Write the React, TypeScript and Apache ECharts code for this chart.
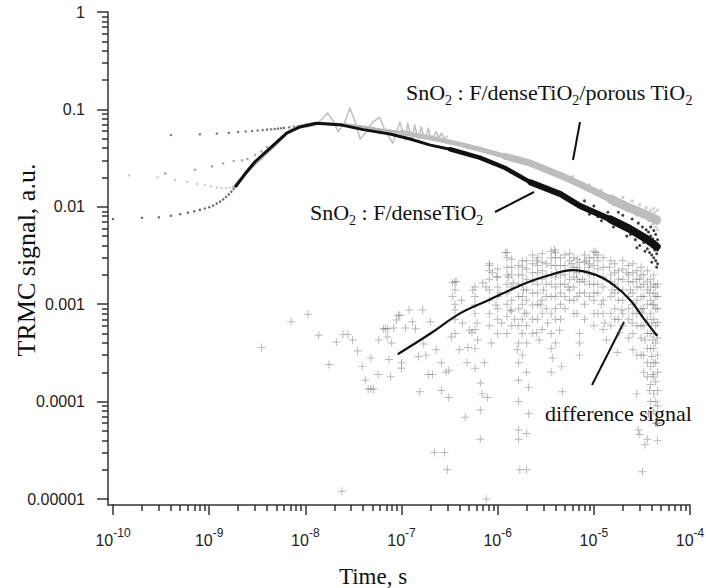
import React, { useEffect, useRef } from 'react';
import * as echarts from 'echarts';

// ---------- axis ticks ----------
const xTickExponents = ['-10', '-9', '-8', '-7', '-6', '-5', '-4'];
const yTickLabels = ['0.00001', '0.0001', '0.001', '0.01', '0.1', '1'];
const minorMultipliers = [2, 3, 4, 5, 6, 7, 8, 9];
const xMinorDecades = [1e-10, 1e-9, 1e-8, 1e-7, 1e-6, 1e-5];
const yMinorDecades = [1e-5, 1e-4, 1e-3, 1e-2, 1e-1];

// ---------- early-time dotted traces ----------
const earlyTopT = [4e-10, 8e-10, 1.2e-9, 1.6e-9, 2.0e-9, 2.4e-9, 2.8e-9, 3.2e-9, 3.6e-9, 4.0e-9, 4.4e-9, 4.8e-9, 5.2e-9, 5.6e-9, 6.0e-9, 6.8e-9, 7.6e-9, 8.4e-9, 9.2e-9, 1.0e-8];
const earlyTopV = [0.0546, 0.0555, 0.0565, 0.0575, 0.0585, 0.0593, 0.06, 0.0607, 0.0614, 0.062, 0.0626, 0.063, 0.0636, 0.064, 0.0645, 0.0655, 0.0663, 0.067, 0.0677, 0.068];

const earlyMidT = [3.5e-10, 7.1e-10, 1.07e-9, 1.4e-9, 1.8e-9, 2.2e-9, 2.5e-9, 3.0e-9, 3.5e-9, 4.0e-9];
const earlyMidV = [0.022, 0.024, 0.026, 0.028, 0.0295, 0.030, 0.031, 0.034, 0.037, 0.041];

const earlyLightT = [1.47e-10, 2.9e-10, 4.4e-10, 5.9e-10, 7.5e-10, 9e-10, 1.05e-9, 1.2e-9, 1.35e-9, 1.5e-9, 1.65e-9, 1.8e-9];
const earlyLightV = [0.021, 0.020, 0.0188, 0.018, 0.0172, 0.0167, 0.0162, 0.0158, 0.0156, 0.0156, 0.0157, 0.016];

const earlyLowT = [1e-10, 2e-10, 3e-10, 4e-10, 5e-10, 6e-10, 7e-10, 8e-10, 9e-10, 1.0e-9, 1.1e-9, 1.2e-9, 1.3e-9, 1.4e-9, 1.5e-9, 1.6e-9, 1.7e-9, 1.8e-9, 1.9e-9, 2.0e-9, 2.2e-9, 2.4e-9, 2.6e-9, 2.8e-9, 3.0e-9];
const earlyLowV = [0.0075, 0.0077, 0.0078, 0.0081, 0.0084, 0.0087, 0.009, 0.0093, 0.0096, 0.0099, 0.0103, 0.0108, 0.0113, 0.0119, 0.0126, 0.0134, 0.0143, 0.0153, 0.0163, 0.0174, 0.0198, 0.0222, 0.0246, 0.027, 0.0292];

// ---------- main decays ----------
const denseT = [1.9e-9, 2.4e-9, 3e-9, 4.3e-9, 6.4e-9, 8.8e-9, 1.3e-8, 2.4e-8, 4e-8, 7.6e-8, 1.2e-7, 2e-7, 3.2e-7, 6.5e-7, 1.2e-6, 2.2e-6, 4.5e-6, 7.2e-6, 1.5e-5, 2.3e-5, 3.5e-5, 4.5e-5];
const denseV = [0.0163, 0.0222, 0.029, 0.040, 0.057, 0.066, 0.072, 0.069, 0.062, 0.056, 0.050, 0.043, 0.039, 0.032, 0.025, 0.0178, 0.0135, 0.0102, 0.0074, 0.006, 0.0047, 0.0039];

const porousT = [1.8e-9, 2.6e-9, 3.5e-9, 4.6e-9, 6.4e-9, 8e-9, 1.04e-8, 1.5e-8, 2.5e-8, 4e-8, 6e-8, 1e-7, 2e-7, 4e-7, 6.5e-7, 1.2e-6, 2.2e-6, 4.5e-6, 7.2e-6, 1.5e-5, 2.3e-5, 3.5e-5, 4.5e-5];
const porousV = [0.016, 0.024, 0.032, 0.041, 0.057, 0.065, 0.070, 0.072, 0.070, 0.066, 0.062, 0.058, 0.051, 0.044, 0.039, 0.033, 0.028, 0.021, 0.017, 0.012, 0.0098, 0.0083, 0.0073];

const oscT = [1.0e-8, 1.25e-8, 1.5e-8, 1.7e-8, 1.95e-8, 2.2e-8, 2.55e-8, 2.9e-8, 3.3e-8, 3.7e-8, 4.3e-8, 5e-8, 5.9e-8, 6.8e-8, 8.1e-8, 8.9e-8, 9.6e-8, 1.03e-7, 1.1e-7, 1.16e-7, 1.24e-7, 1.3e-7, 1.37e-7, 1.45e-7, 1.52e-7, 1.6e-7, 1.7e-7, 1.78e-7, 1.9e-7, 2.0e-7, 2.1e-7, 2.3e-7, 2.45e-7, 2.6e-7, 2.8e-7, 3.0e-7];
const oscV = [0.066, 0.068, 0.08, 0.092, 0.076, 0.059, 0.072, 0.103, 0.075, 0.05, 0.058, 0.074, 0.083, 0.06, 0.045, 0.058, 0.074, 0.06, 0.048, 0.072, 0.055, 0.05, 0.069, 0.055, 0.05, 0.066, 0.054, 0.05, 0.064, 0.053, 0.05, 0.059, 0.051, 0.057, 0.05, 0.053];

// band widening thresholds (time from which the noisy band gets wider)
const denseBandStarts = [3e-7, 2e-6, 1e-5];
const porousBandStarts = [1e-7, 1e-6, 1e-5];

const denseNoise: [number, number][] = [
  [1.8e-5, 0.0088], [2.0e-5, 0.0082], [2.2e-5, 0.005], [2.5e-5, 0.0075], [2.7e-5, 0.0046], [2.9e-5, 0.0068], [3.0e-5, 0.004],
  [3.2e-5, 0.0062], [3.3e-5, 0.0043], [3.5e-5, 0.0058], [3.6e-5, 0.0037], [3.7e-5, 0.0055], [3.8e-5, 0.0034], [3.9e-5, 0.005],
  [4.0e-5, 0.0032], [4.1e-5, 0.0047], [4.2e-5, 0.003], [4.3e-5, 0.0044], [4.4e-5, 0.0028], [4.5e-5, 0.0042], [4.5e-5, 0.0033],
  [4.6e-5, 0.0036], [4.6e-5, 0.0026], [4.4e-5, 0.0052], [4.2e-5, 0.0057], [3.9e-5, 0.0062], [4.5e-5, 0.0024], [4.3e-5, 0.0036],
  [4.1e-5, 0.0039], [3.4e-5, 0.0035], [2.8e-5, 0.0038], [1.6e-5, 0.0062], [1.2e-5, 0.0072], [4.6e-5, 0.0046], [4.0e-5, 0.0027],
  [8e-6, 0.0115], [9e-6, 0.0084], [1.0e-5, 0.0102], [1.1e-5, 0.0079], [1.4e-5, 0.0088], [2.4e-5, 0.0052], [3.1e-5, 0.0053],
];
const porousNoise: [number, number][] = [
  [2.5e-5, 0.0115], [2.8e-5, 0.0082], [3.0e-5, 0.0105], [3.2e-5, 0.0078], [3.5e-5, 0.0098], [3.7e-5, 0.0072], [3.9e-5, 0.0092],
  [4.1e-5, 0.0066], [4.3e-5, 0.0088], [4.4e-5, 0.0062], [4.5e-5, 0.008], [4.6e-5, 0.0058], [4.6e-5, 0.0068], [4.6e-5, 0.0092],
  [2.0e-5, 0.0125], [4.2e-5, 0.0096], [1.2e-5, 0.0148], [1.6e-5, 0.0105], [9e-6, 0.0168], [6e-6, 0.0205],
];

// ---------- difference signal ----------
const diffPoints: [number, number][] = [
  [3.5e-9, 3.6e-4], [7.1e-9, 6.6e-4], [1.07e-8, 7.9e-4], [1.38e-8, 4.8e-4], [1.76e-8, 2.4e-4], [2.1e-8, 4.1e-4], [2.46e-8, 4.9e-4],
  [2.77e-8, 4.9e-4], [3.1e-8, 4.3e-4], [3.5e-8, 3.3e-4], [3.9e-8, 2.3e-4], [4.2e-8, 1.66e-4], [4.5e-8, 1.35e-4], [4.8e-8, 1.35e-4],
  [5.1e-8, 1.35e-4], [4.8e-8, 2.8e-4], [5.7e-8, 1.9e-4], [5.8e-8, 4.3e-4], [6.5e-8, 5.6e-4], [6.8e-8, 5.6e-4], [7.2e-8, 5.6e-4],
  [7.1e-8, 4.6e-4], [7.4e-8, 2.7e-4], [7.7e-8, 1.8e-4], [7.9e-8, 4.0e-4], [8.3e-8, 5.7e-4], [8.9e-8, 6.9e-4], [9.3e-8, 7.7e-4],
  [2.4e-8, 1.2e-5],
  [9.6e-8, 7.7e-4], [1.0e-7, 2.5e-4], [1.0e-7, 2.2e-4], [1.1e-7, 5.7e-4], [1.2e-7, 8.7e-4], [1.3e-7, 6.6e-4], [1.4e-7, 5.6e-4],
  [1.5e-7, 2.9e-4], [1.55e-7, 1.26e-4], [1.66e-7, 8.7e-4], [1.7e-7, 3.9e-4], [1.8e-7, 3.0e-4], [1.9e-7, 1.9e-4], [2.0e-7, 6.6e-4],
  [2.1e-7, 1.9e-4], [2.2e-7, 3.0e-5], [2.3e-7, 3.4e-4], [2.6e-7, 2.5e-4], [2.6e-7, 1.3e-4], [2.8e-7, 3.0e-5], [2.9e-7, 2.0e-4],
  [3.0e-7, 2.0e-5], [3.1e-7, 1.1e-4], [3.1e-7, 2.1e-4], [3.3e-7, 4.6e-4], [3.4e-7, 1.66e-3], [3.4e-7, 1.2e-3], [3.6e-7, 8.7e-4],
  [3.7e-7, 1.7e-3], [4.0e-7, 3.4e-4], [4.2e-7, 1.1e-3], [4.3e-7, 6.4e-4], [4.6e-7, 6.9e-5], [4.8e-7, 2.5e-4], [4.9e-7, 3.6e-4],
  [5.1e-7, 5.4e-4], [5.4e-7, 5.1e-4], [5.5e-7, 1.4e-3], [5.8e-7, 9.8e-4], [6.1e-7, 6.4e-4], [6.2e-7, 4.3e-4], [6.6e-7, 1.55e-4],
  [6.6e-7, 8.2e-5], [6.6e-7, 4.1e-5], [6.9e-7, 1.2e-4], [7.0e-7, 1.66e-3], [7.3e-7, 2.5e-4], [7.6e-7, 1.5e-3], [7.6e-7, 1.0e-5],
  [7.8e-7, 1.1e-4], [8.2e-7, 2.5e-3], [8.6e-7, 4.0e-4], [8.8e-7, 2.1e-3], [9.6e-7, 9.8e-4], [9.8e-7, 1.9e-3], [1.05e-6, 1.3e-3],
  [1.1e-6, 6.4e-4], [1.2e-6, 3.4e-3], [1.3e-6, 1.9e-3], [1.35e-6, 8.7e-4], [1.45e-6, 1.66e-3], [1.5e-6, 7.0e-4],
  [1.6e-6, 3.4e-4], [1.65e-6, 1.66e-4], [1.65e-6, 1.0e-4], [1.65e-6, 5.1e-5], [1.65e-6, 4.1e-5], [1.7e-6, 2.0e-5], [1.8e-6, 2.8e-3],
  [1.85e-6, 1.4e-3], [1.9e-6, 8.1e-4], [2.0e-6, 2.0e-5], [2.0e-6, 4.7e-5], [2.1e-6, 7.5e-5], [2.1e-6, 1.4e-4],
  [2.3e-6, 2.1e-3], [2.3e-6, 9.8e-4], [2.55e-6, 5.1e-4],
  [2.55e-6, 2.8e-3], [2.8e-6, 9.8e-4], [2.7e-6, 4.3e-4], [3.0e-6, 1.4e-3], [3.3e-6, 6.4e-4], [3.6e-6, 2.0e-4],
  [3.7e-6, 2.8e-4], [3.9e-6, 3.6e-3], [4.1e-6, 2.1e-3], [4.4e-6, 5.4e-4], [4.6e-6, 2.3e-4], [4.7e-6, 1.26e-4],
  [5.4e-6, 1.5e-3], [5.9e-6, 2.6e-3], [6.6e-6, 2.1e-3], [7.6e-6, 1.8e-3], [8.3e-6, 2.8e-3], [8.9e-6, 2.4e-3],
  [1.0e-5, 1.3e-3], [1.05e-5, 3.4e-3], [1.2e-5, 1.0e-3], [1.3e-5, 6.4e-4], [1.35e-5, 4.3e-4], [1.45e-5, 2.4e-3],
  [1.55e-5, 1.4e-3], [1.75e-5, 3.2e-4], [1.85e-5, 5.1e-4], [1.95e-5, 8.7e-4], [2.2e-5, 2.1e-3], [2.4e-5, 1.4e-3],
  [2.5e-5, 6.4e-4], [2.55e-5, 3.4e-4], [2.8e-5, 1.2e-4], [2.9e-5, 5.1e-5], [3.0e-5, 1.8e-3], [3.2e-5, 8.1e-4],
  [3.4e-5, 4.3e-4], [3.6e-5, 1.8e-4], [3.6e-5, 4.1e-5], [3.7e-5, 7.5e-5], [3.8e-5, 1.3e-3], [3.8e-5, 1.3e-4], [4.0e-5, 6.4e-4],
  [4.0e-5, 2.9e-4], [4.1e-5, 9.8e-4], [4.1e-5, 4.3e-4], [4.1e-5, 1.9e-4], [3.2e-5, 1.9e-5], [3.0e-5, 4.6e-5], [3.4e-5, 3.6e-5],
];
const diffStreakT = [
  3.6e-7, 5.8e-7, 8.2e-7, 1.0e-6, 1.25e-6, 1.4e-6, 1.65e-6, 1.8e-6, 2.0e-6, 2.3e-6, 2.6e-6, 2.9e-6, 3.2e-6, 3.6e-6, 4.0e-6,
  4.5e-6, 5.0e-6, 5.6e-6, 6.2e-6, 6.7e-6, 7.1e-6, 8e-6, 9e-6, 1.0e-5, 1.1e-5, 1.25e-5, 1.5e-5, 1.65e-5, 1.8e-5, 2.0e-5,
  2.3e-5, 2.55e-5, 2.8e-5, 3.1e-5, 3.3e-5, 3.6e-5, 3.9e-5, 4.2e-5, 4.4e-5, 4.6e-5,
];
const diffStreakV = [
  [1.7e-3, 1.4e-3, 1.0e-3, 7e-4, 5e-4],
  [1.5e-3, 1.2e-3, 8e-4, 5.5e-4, 3.5e-4, 2.2e-4],
  [2.6e-3, 2.2e-3, 1.8e-3, 1.4e-3, 1.1e-3, 8e-4, 6e-4],
  [2.3e-3, 1.9e-3, 1.5e-3, 1.2e-3, 9e-4, 7e-4, 5e-4],
  [3.4e-3, 3.0e-3, 2.4e-3, 2.0e-3, 1.6e-3, 1.3e-3, 1.0e-3, 7.5e-4, 5e-4],
  [2.9e-3, 2.4e-3, 2.0e-3, 1.5e-3, 1.1e-3, 8.5e-4, 6e-4],
  [2.5e-3, 2.0e-3, 1.6e-3, 1.2e-3, 9e-4, 6e-4, 4e-4, 2.5e-4],
  [2.4e-3, 2.0e-3, 1.6e-3, 1.2e-3, 1.0e-3, 7e-4, 5e-4, 3e-4],
  [2.8e-3, 2.3e-3, 1.8e-3, 1.4e-3, 1.1e-3, 8e-4, 6e-4, 4e-4, 2e-4],
  [3.2e-3, 2.6e-3, 1.7e-3, 1.3e-3, 7e-4, 5e-4],
  [3.0e-3, 2.5e-3, 2.1e-3, 1.6e-3, 1.3e-3, 1.0e-3, 7e-4],
  [3.3e-3, 2.7e-3, 2.2e-3, 1.8e-3, 1.1e-3, 8e-4, 5.5e-4],
  [2.6e-3, 2.0e-3, 1.6e-3, 1.2e-3, 9e-4],
  [3.5e-3, 3.0e-3, 2.5e-3, 2.0e-3, 1.6e-3, 1.2e-3, 8e-4, 5e-4, 3.5e-4],
  [3.4e-3, 3.0e-3, 2.5e-3, 1.9e-3, 1.5e-3, 1.2e-3, 9e-4, 7e-4, 4e-4],
  [3.0e-3, 2.5e-3, 2.0e-3, 1.6e-3, 1.3e-3, 1.0e-3, 7e-4],
  [3.2e-3, 2.5e-3, 2.0e-3, 1.6e-3, 1.2e-3, 9e-4],
  [3.3e-3, 2.8e-3, 2.2e-3, 1.8e-3, 1.4e-3, 1.1e-3],
  [3.0e-3, 2.4e-3, 1.9e-3, 1.5e-3, 1.1e-3, 8e-4],
  [2.9e-3, 2.4e-3, 1.8e-3, 1.2e-3, 8e-4],
  [2.7e-3, 2.2e-3, 1.7e-3, 1.3e-3, 5e-4, 4e-4, 3e-4],
  [3.2e-3, 2.7e-3, 2.2e-3, 1.7e-3, 1.3e-3, 1.0e-3, 7e-4],
  [3.0e-3, 2.6e-3, 2.0e-3, 1.6e-3, 1.2e-3],
  [3.5e-3, 3.0e-3, 2.5e-3, 2.0e-3, 1.6e-3, 1.1e-3, 8e-4, 6e-4],
  [3.2e-3, 2.8e-3, 2.3e-3, 1.6e-3, 1.3e-3, 8e-4],
  [3.0e-3, 2.4e-3, 1.9e-3, 1.5e-3, 1.1e-3, 8e-4, 5.5e-4],
  [2.8e-3, 2.0e-3, 1.7e-3, 1.2e-3, 8e-4, 6e-4],
  [2.6e-3, 2.1e-3, 1.6e-3, 1.3e-3, 9e-4, 7e-4],
  [2.2e-3, 1.8e-3, 1.4e-3, 1.1e-3, 7e-4],
  [2.8e-3, 2.3e-3, 1.8e-3, 1.4e-3, 1.1e-3, 8e-4, 6e-4],
  [2.5e-3, 2.0e-3, 1.7e-3, 1.2e-3, 9e-4, 7e-4, 4.5e-4],
  [2.6e-3, 2.1e-3, 1.7e-3, 1.3e-3, 1.0e-3, 8e-4, 5e-4],
  [2.2e-3, 1.8e-3, 1.5e-3, 1.1e-3, 8e-4, 6e-4, 3e-4],
  [2.4e-3, 2.0e-3, 1.5e-3, 1.2e-3, 9e-4, 6e-4, 4.5e-4, 3e-4],
  [2.0e-3, 1.6e-3, 1.2e-3, 9e-4, 6e-4, 3e-4, 2e-4],
  [2.2e-3, 1.7e-3, 1.4e-3, 1.0e-3, 7e-4, 5e-4, 3.5e-4, 2.5e-4],
  [1.8e-3, 1.5e-3, 1.1e-3, 8e-4, 5e-4, 3.5e-4, 2.3e-4, 1.5e-4, 1e-4],
  [2.0e-3, 1.6e-3, 1.3e-3, 1.0e-3, 7e-4, 5e-4, 3.5e-4, 2.5e-4, 1.8e-4, 1.2e-4, 8e-5],
  [1.5e-3, 1.2e-3, 9e-4, 6e-4, 4e-4, 2.5e-4, 1.6e-4, 1e-4, 6e-5],
  [1.6e-3, 1.2e-3, 9e-4, 6.5e-4, 4.5e-4, 3e-4, 2e-4, 1.3e-4, 9e-5, 6e-5, 4e-5],
];

const fitT = [9.3e-8, 2e-7, 4.1e-7, 8e-7, 1.58e-6, 2.2e-6, 3e-6, 6e-6, 1.05e-5, 1.6e-5, 2.4e-5, 3.2e-5, 4.5e-5];
const fitV = [3.1e-4, 5.0e-4, 8.1e-4, 1.1e-3, 1.5e-3, 1.72e-3, 1.9e-3, 2.24e-3, 2.0e-3, 1.58e-3, 1.1e-3, 7.4e-4, 4.8e-4];

const zip = (t: number[], v: number[]) => t.map((x, i) => [x, v[i]]);

const SERIF = '"Liberation Serif", "Times New Roman", serif';
const SANS = '"Liberation Sans", Arial, sans-serif';
const CROSS = 'path://M4.4,0H5.6V4.4H10V5.6H5.6V10H4.4V5.6H0V4.4H4.4Z';
const AXIS = '#333333';
const X_OFFSET = 6;
const Y_OFFSET = 5;

function buildOption() {
  const diffAll: number[][] = diffPoints.map((p) => [p[0], p[1]]);
  diffStreakT.forEach((t, i) => diffStreakV[i].forEach((v) => diffAll.push([t, v])));

  const xMinorValues: number[] = [];
  xMinorDecades.forEach((d) => minorMultipliers.forEach((m) => xMinorValues.push(d * m)));
  const yMinorValues: number[] = [];
  yMinorDecades.forEach((d) => minorMultipliers.forEach((m) => yMinorValues.push(d * m)));

  const dense = zip(denseT, denseV);
  const porous = zip(porousT, porousV);

  const dots = (data: number[][], color: string, size = 2.5) => ({
    type: 'scatter', data, symbol: 'circle', symbolSize: size, itemStyle: { color }, silent: true,
  });
  const line = (data: number[][], color: string, width: number, extra = {}) => ({
    type: 'line', data, showSymbol: false, symbol: 'none', lineStyle: { color, width, cap: 'round', join: 'round' }, silent: true, ...extra,
  });
  const band = (data: number[][], starts: number[], widths: number[], color: string) =>
    starts.map((s, i) => line(data.filter((p) => p[0] >= s), color, widths[i]));

  const leader = (x1: number, y1: number, x2: number, y2: number) => ({
    type: 'line', shape: { x1, y1, x2, y2 }, style: { stroke: '#111', lineWidth: 2 }, silent: true,
  });
  const subText = (x: number, y: number, parts: [string, boolean][]) => ({
    type: 'text', x, y, silent: true,
    style: {
      text: parts.map(([s, sub]) => (sub ? `{s|${s}}` : `{a|${s}}`)).join(''),
      align: 'left', verticalAlign: 'middle',
      rich: {
        a: { fontFamily: SERIF, fontSize: 22, fill: '#111' },
        s: { fontFamily: SERIF, fontSize: 14, fill: '#111', padding: [17, 0, 0, 0] },
      },
    },
  });

  const tickStyle = { color: AXIS, width: 1.5 };

  return {
    animation: false,
    backgroundColor: '#ffffff',
    grid: { left: 113, right: 16, top: 12, bottom: 89, containLabel: false, outerBoundsMode: 'none' },
    xAxis: [
      {
        type: 'log', logBase: 10, min: 1e-10, max: 1e-4, offset: X_OFFSET, position: 'bottom',
        axisLine: { show: true, lineStyle: tickStyle },
        axisTick: { show: true, length: 10, lineStyle: tickStyle },
        minorTick: { show: false },
        splitLine: { show: false },
        axisLabel: {
          margin: 22,
          formatter: (v: number) => {
            const e = Math.round(Math.log10(v));
            const lab = xTickExponents.find((s) => Number(s) === e) ?? String(e);
            return `{b|10}{s|${lab}}`;
          },
          rich: {
            b: { fontFamily: SANS, fontSize: 16, color: '#222' },
            s: { fontFamily: SANS, fontSize: 12, color: '#222', padding: [0, 0, 14, 0] },
          },
        },
      },
      {
        // minor log ticks
        type: 'log', logBase: 10, min: 1e-10, max: 1e-4, offset: X_OFFSET, position: 'bottom',
        axisLine: { show: false }, axisLabel: { show: false }, splitLine: { show: false },
        axisTick: { show: true, length: 6, lineStyle: tickStyle, customValues: xMinorValues },
      },
    ],
    yAxis: [
      {
        type: 'log', logBase: 10, min: 1e-5, max: 1, offset: Y_OFFSET, position: 'left',
        axisLine: { show: true, lineStyle: tickStyle },
        axisTick: { show: true, length: 11, lineStyle: tickStyle },
        minorTick: { show: false },
        splitLine: { show: false },
        axisLabel: {
          margin: 23, fontFamily: SANS, fontSize: 16, color: '#222',
          formatter: (v: number) => yTickLabels[Math.round(Math.log10(v)) + 5] ?? '',
        },
      },
      {
        type: 'log', logBase: 10, min: 1e-5, max: 1, offset: Y_OFFSET, position: 'left',
        axisLine: { show: false }, axisLabel: { show: false }, splitLine: { show: false },
        axisTick: { show: true, length: 6, lineStyle: tickStyle, customValues: yMinorValues },
      },
    ],
    series: [
      {
        type: 'scatter', data: diffAll, symbol: CROSS, symbolSize: 8, silent: true,
        itemStyle: { color: 'rgba(110,110,110,0.62)' },
      },
      dots(zip(earlyLightT, earlyLightV), '#c2c2c2'),
      dots(zip(earlyMidT, earlyMidV), '#8c8c8c'),
      dots(zip(earlyTopT, earlyTopV), '#555555'),
      dots(zip(earlyLowT, earlyLowV), '#444444'),
      line(porous, '#b4b4b4', 3),
      ...band(porous, porousBandStarts, [5, 7, 9], '#bdbdbd'),
      dots(porousNoise, '#bcbcbc', 3),
      line(zip(oscT, oscV), '#bfbfbf', 1.5),
      line(dense, '#111111', 3),
      ...band(dense, denseBandStarts, [4.5, 6, 8], '#111111'),
      dots(denseNoise, '#111111', 3),
      line(zip(fitT, fitV), '#111111', 2.2, { smooth: 0.4 }),
    ],
    graphic: [
      { type: 'line', shape: { x1: 108, y1: 498, x2: 108, y2: 505 }, style: { stroke: AXIS, lineWidth: 1.5 }, silent: true },
      { type: 'line', shape: { x1: 107.3, y1: 505, x2: 114, y2: 505 }, style: { stroke: AXIS, lineWidth: 1.5 }, silent: true },
      leader(580, 122, 573, 160),
      leader(495, 212, 534, 192),
      leader(592, 385, 624, 322),
      subText(406, 92, [['SnO', false], ['2', true], [' : F/denseTiO', false], ['2', true], ['/porous TiO', false], ['2', true]]),
      subText(310, 212, [['SnO', false], ['2', true], [' : F/denseTiO', false], ['2', true]]),
      {
        type: 'text', x: 545, y: 413, silent: true,
        style: { text: 'difference signal', fontFamily: SERIF, fontSize: 22, fill: '#111', align: 'left', verticalAlign: 'middle' },
      },
      {
        type: 'text', x: 26, y: 260, rotation: Math.PI / 2, silent: true,
        style: { text: 'TRMC signal, a.u.', fontFamily: SERIF, fontSize: 26, fill: '#111', align: 'center', verticalAlign: 'middle' },
      },
      {
        type: 'text', x: 373, y: 576, silent: true,
        style: { text: 'Time, s', fontFamily: SERIF, fontSize: 23, fill: '#111', align: 'center', verticalAlign: 'middle' },
      },
    ],
  };
}

export default function App() {
  const ref = useRef<HTMLDivElement>(null);
  useEffect(() => {
    if (!ref.current) return;
    const chart = echarts.init(ref.current, undefined, { renderer: 'svg' });
    chart.setOption(buildOption() as any);
    return () => chart.dispose();
  }, []);
  return <div ref={ref} style={{ width: 706, height: 588, position: 'absolute', left: 0, top: 0 }} />;
}
